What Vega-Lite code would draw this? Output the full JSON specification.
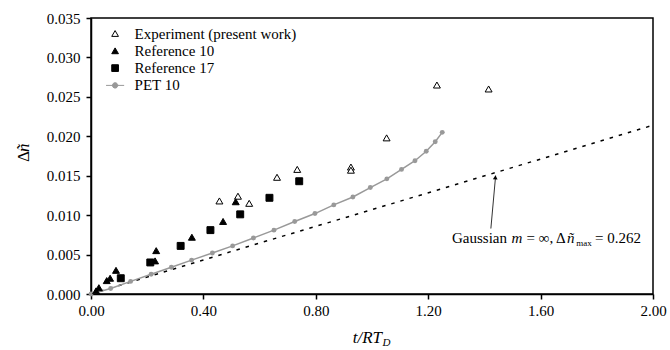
{
  "$schema": "https://vega.github.io/schema/vega-lite/v6.json",
  "width": 562,
  "height": 276,
  "autosize": "none",
  "padding": {"left": 91, "top": 18, "right": 17, "bottom": 56},
  "background": "white",
  "config": {
    "font": "Liberation Serif",
    "view": {"stroke": "black", "strokeWidth": 1.5},
    "axis": {
      "domainColor": "black", "domainWidth": 1.5, "tickColor": "black", "tickWidth": 1.5, "tickSize": 5,
      "labelFont": "Liberation Serif", "labelFontSize": 15, "labelColor": "black", "grid": false, "labelFlush": false
    },
    "legend": {
      "orient": "none", "legendX": 16.6, "legendY": 8, "padding": 0,
      "labelFont": "Liberation Serif", "labelFontSize": 15, "labelColor": "black", "labelLimit": 400,
      "labelOffset": 12, "rowPadding": 1.3, "symbolSize": 45, "symbolStrokeWidth": 1
    }
  },
  "datasets": {
    "pts": [
      {"series": "Experiment (present work)", "t": 0.457, "dn": 0.0118},
      {"series": "Experiment (present work)", "t": 0.523, "dn": 0.0124},
      {"series": "Experiment (present work)", "t": 0.563, "dn": 0.0115},
      {"series": "Experiment (present work)", "t": 0.662, "dn": 0.0148},
      {"series": "Experiment (present work)", "t": 0.734, "dn": 0.0158},
      {"series": "Experiment (present work)", "t": 0.925, "dn": 0.0161},
      {"series": "Experiment (present work)", "t": 0.925, "dn": 0.0157},
      {"series": "Experiment (present work)", "t": 1.052, "dn": 0.0198},
      {"series": "Experiment (present work)", "t": 1.231, "dn": 0.0265},
      {"series": "Experiment (present work)", "t": 1.415, "dn": 0.0260},
      {"series": "Reference 10", "t": 0.018, "dn": 0.0004},
      {"series": "Reference 10", "t": 0.028, "dn": 0.0008},
      {"series": "Reference 10", "t": 0.056, "dn": 0.0017},
      {"series": "Reference 10", "t": 0.068, "dn": 0.0020},
      {"series": "Reference 10", "t": 0.089, "dn": 0.0030},
      {"series": "Reference 10", "t": 0.228, "dn": 0.0042},
      {"series": "Reference 10", "t": 0.232, "dn": 0.0055},
      {"series": "Reference 10", "t": 0.359, "dn": 0.0072},
      {"series": "Reference 10", "t": 0.470, "dn": 0.0092},
      {"series": "Reference 10", "t": 0.515, "dn": 0.0117},
      {"series": "Reference 17", "t": 0.106, "dn": 0.0020},
      {"series": "Reference 17", "t": 0.211, "dn": 0.0040},
      {"series": "Reference 17", "t": 0.319, "dn": 0.0061},
      {"series": "Reference 17", "t": 0.425, "dn": 0.0081},
      {"series": "Reference 17", "t": 0.531, "dn": 0.0101},
      {"series": "Reference 17", "t": 0.635, "dn": 0.0122},
      {"series": "Reference 17", "t": 0.741, "dn": 0.0143}
    ],
    "pet": [
      {"t": 0.0, "dn": 0.0}, {"t": 0.07, "dn": 0.0007}, {"t": 0.141, "dn": 0.0016},
      {"t": 0.214, "dn": 0.0025}, {"t": 0.286, "dn": 0.0034}, {"t": 0.358, "dn": 0.0043},
      {"t": 0.432, "dn": 0.0052}, {"t": 0.504, "dn": 0.0061}, {"t": 0.578, "dn": 0.0071},
      {"t": 0.651, "dn": 0.0081}, {"t": 0.725, "dn": 0.0092}, {"t": 0.797, "dn": 0.0102},
      {"t": 0.864, "dn": 0.0113}, {"t": 0.932, "dn": 0.0123}, {"t": 0.994, "dn": 0.0135},
      {"t": 1.053, "dn": 0.0146}, {"t": 1.105, "dn": 0.0158}, {"t": 1.153, "dn": 0.0169},
      {"t": 1.193, "dn": 0.0181}, {"t": 1.225, "dn": 0.0193}, {"t": 1.25, "dn": 0.0205}
    ],
    "gauss": [
      {"t": 0.0, "dn": 0.0}, {"t": 0.25, "dn": 0.0027}, {"t": 0.5, "dn": 0.0054},
      {"t": 1.0, "dn": 0.0107}, {"t": 1.44, "dn": 0.0154}, {"t": 2.0, "dn": 0.0214}
    ],
    "arrow": [{"t": 1.423, "dn": 0.0083, "t2": 1.44, "dn2": 0.0150}],
    "arrowhead": [{"t": 1.439, "dn": 0.0148}],
    "annoRomanRight": [
      {"t": 1.4804, "dn": 0.00647, "txt": "Gaussian"}
    ],
    "annoRoman": [
      {"t": 1.5498, "dn": 0.00647, "txt": "= ∞, Δ"},
      {"t": 1.7935, "dn": 0.00647, "txt": "= 0.262"}
    ],
    "annoItalic": [
      {"t": 1.4964, "dn": 0.00647, "txt": "m"},
      {"t": 1.694, "dn": 0.00647, "txt": "ñ"}
    ],
    "annoSub": [
      {"t": 1.7265, "dn": 0.00609, "txt": "max"}
    ],
    "xtitle": [{"t": 1.0356, "dn": -0.00621, "txt": "t/RT"}],
    "xtitleSub": [{"t": 1.037, "dn": -0.0066, "txt": "D"}],
    "ytitleRoman": [{"t": -0.2206, "dn": 0.01674, "txt": "Δ"}],
    "ytitleItalic": [{"t": -0.2206, "dn": 0.01801, "txt": "ñ"}]
  },
  "encoding": {
    "x": {"field": "t", "type": "quantitative", "title": null,
      "scale": {"domain": [0, 2], "nice": false},
      "axis": {"values": [0, 0.4, 0.8, 1.2, 1.6, 2.0], "format": ".2f", "labelPadding": 4}},
    "y": {"field": "dn", "type": "quantitative", "title": null,
      "scale": {"domain": [0, 0.035], "nice": false},
      "axis": {"values": [0, 0.005, 0.01, 0.015, 0.02, 0.025, 0.03, 0.035], "format": ".3f", "labelPadding": 6}}
  },
  "layer": [
    {"data": {"name": "gauss"},
     "mark": {"type": "line", "color": "black", "strokeWidth": 1.5, "strokeDash": [3.5, 6]}},
    {"data": {"name": "pet"},
     "mark": {"type": "line", "color": "#999999", "strokeWidth": 1.5}},
    {"data": {"name": "pet"},
     "mark": {"type": "circle", "color": "#999999", "size": 24, "opacity": 1}},
    {"data": {"name": "pts"},
     "mark": {"type": "point", "opacity": 1, "strokeWidth": 1, "size": 48},
     "encoding": {
       "shape": {"field": "series", "type": "nominal", "title": null,
         "scale": {"domain": ["Experiment (present work)", "Reference 10", "Reference 17", "PET 10"],
           "range": ["triangle-up", "triangle-up", "square", "M-2.7,0L2.7,0M-0.8,0A0.8,0.8 0 1 1 0.8,0A0.8,0.8 0 1 1 -0.8,0Z"]}},
       "fill": {"field": "series", "type": "nominal", "title": null,
         "scale": {"domain": ["Experiment (present work)", "Reference 10", "Reference 17", "PET 10"],
           "range": ["white", "black", "black", "#999999"]}},
       "stroke": {"field": "series", "type": "nominal", "title": null,
         "scale": {"domain": ["Experiment (present work)", "Reference 10", "Reference 17", "PET 10"],
           "range": ["black", "black", "black", "#999999"]}}
     }},
    {"data": {"name": "arrow"},
     "mark": {"type": "rule", "color": "#333333", "strokeWidth": 1},
     "encoding": {"x2": {"field": "t2"}, "y2": {"field": "dn2"}}},
    {"data": {"name": "arrowhead"},
     "mark": {"type": "point", "shape": "triangle-up", "filled": true, "color": "black", "size": 22, "angle": 4, "opacity": 1}},
    {"data": {"name": "annoRomanRight"},
     "mark": {"type": "text", "align": "right", "baseline": "alphabetic", "fontSize": 15, "color": "black"},
     "encoding": {"text": {"field": "txt"}}},
    {"data": {"name": "annoRoman"},
     "mark": {"type": "text", "align": "left", "baseline": "alphabetic", "fontSize": 15, "color": "black"},
     "encoding": {"text": {"field": "txt"}}},
    {"data": {"name": "annoItalic"},
     "mark": {"type": "text", "align": "left", "baseline": "alphabetic", "fontSize": 15, "fontStyle": "italic", "color": "black"},
     "encoding": {"text": {"field": "txt"}}},
    {"data": {"name": "annoSub"},
     "mark": {"type": "text", "align": "left", "baseline": "alphabetic", "fontSize": 9, "color": "black"},
     "encoding": {"text": {"field": "txt"}}},
    {"data": {"name": "xtitle"},
     "mark": {"type": "text", "align": "right", "baseline": "alphabetic", "fontSize": 17, "fontStyle": "italic", "color": "black"},
     "encoding": {"text": {"field": "txt"}}},
    {"data": {"name": "xtitleSub"},
     "mark": {"type": "text", "align": "left", "baseline": "alphabetic", "fontSize": 11, "fontStyle": "italic", "color": "black"},
     "encoding": {"text": {"field": "txt"}}},
    {"data": {"name": "ytitleRoman"},
     "mark": {"type": "text", "align": "left", "baseline": "alphabetic", "fontSize": 17, "angle": 270, "color": "black"},
     "encoding": {"text": {"field": "txt"}}},
    {"data": {"name": "ytitleItalic"},
     "mark": {"type": "text", "align": "left", "baseline": "alphabetic", "fontSize": 17, "angle": 270, "fontStyle": "italic", "color": "black"},
     "encoding": {"text": {"field": "txt"}}}
  ]
}
